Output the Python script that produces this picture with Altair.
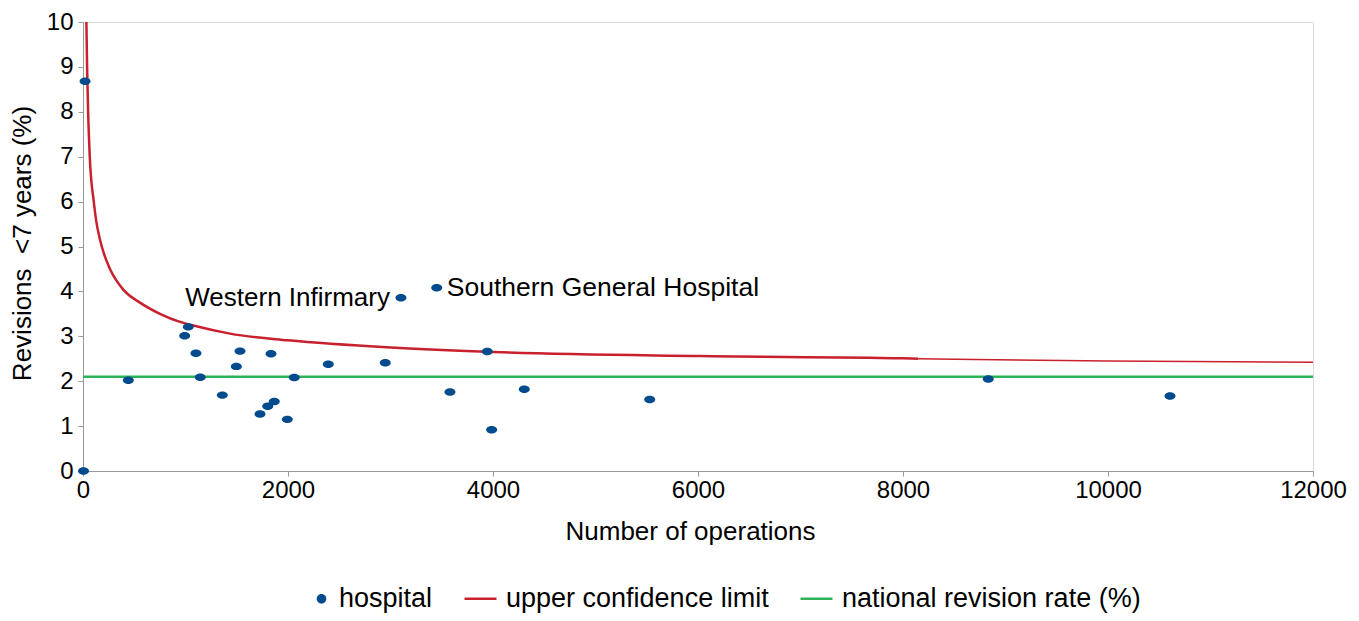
import altair as alt
import pandas as pd

FONT = "Liberation Sans"
BLUE = "#004B8D"
RED = "#C8202D"
GREEN = "#2DB25A"

# hospital points (number of operations, revision rate %)
hosp_x = [5, 20, 442, 992, 1027, 1102, 1144, 1359, 1496, 1532, 1727, 1802, 1866, 1834,
          1993, 2061, 2393, 2949, 3102, 3451, 3580, 3944, 3987, 4305, 5529, 8832, 10605]
hosp_y = [0.0, 8.68, 2.02, 3.01, 3.21, 2.62, 2.09, 1.69, 2.33, 2.67, 1.27, 1.44, 1.55, 2.61,
          1.15, 2.08, 2.38, 2.41, 3.86, 4.08, 1.76, 2.66, 0.92, 1.82, 1.59, 2.05, 1.67]

# upper confidence limit curve
ucl_x = [33, 40, 50, 66, 105, 127, 166, 210, 263, 393, 556, 751, 946, 1076, 1434,
         2000, 3093, 4000, 6020, 8000, 8150, 10000, 12000]
ucl_y = [10.0, 9.0, 8.0, 7.0, 6.0, 5.6, 5.15, 4.8, 4.5, 4.04, 3.75, 3.5, 3.32, 3.24, 3.06,
         2.91, 2.74, 2.65, 2.56, 2.51, 2.50, 2.45, 2.42]

national_rate = 2.1

label_names = ["Western Infirmary", "Southern General Hospital"]
label_x = [3102, 3451]
label_y = [3.86, 4.08]

series_domain = ["hospital", "upper confidence limit", "national revision rate (%)"]
x_ticks = [0, 2000, 4000, 6000, 8000, 10000, 12000]
y_ticks = list(range(0, 11))

# plotted ellipse, and the legend's versions (dot nudged right inside its symbol box)
ELLIPSE = "M-0.3,0A0.3,0.204,0,1,1,0.3,0A0.3,0.204,0,1,1,-0.3,0Z"
LEG_DOT = "M0.2,0A0.3,0.3,0,1,1,0.8,0A0.3,0.3,0,1,1,0.2,0Z"
HLINE = "M-1,0H1"

hosp_df = pd.DataFrame({"ops": hosp_x, "rate": hosp_y, "series": "hospital"})
ucl_df = pd.DataFrame({"ops": ucl_x, "rate": ucl_y})
nat_df = pd.DataFrame({"rate": [national_rate]})
lab_df = pd.DataFrame({"name": label_names, "ops": label_x, "rate": label_y})

xscale = alt.Scale(domain=[0, 12000], nice=False, zero=False)
yscale = alt.Scale(domain=[0, 10], nice=False)

x_axis = alt.Axis(values=x_ticks, format="d", title="Number of operations", grid=False,
                  labelFontSize=24, labelFont=FONT, labelColor="black",
                  titleFontSize=26, titleFont=FONT, titleFontWeight="normal", titleColor="black",
                  titleX=607, titleY=60, titleBaseline="middle", titleAlign="center",
                  domainColor="#999999", tickColor="#999999", tickSize=5, labelPadding=2,
                  labelFlush=False)
y_axis = alt.Axis(values=y_ticks, title="Revisions\u00a0 <7 years (%)", grid=False,
                  labelFontSize=24, labelFont=FONT, labelColor="black",
                  titleFontSize=26, titleFont=FONT, titleFontWeight="normal", titleColor="black",
                  titleX=-61, titleY=221, titleAngle=-90, titleAlign="center", titleBaseline="middle",
                  domainColor="#999999", tickColor="#999999", tickSize=5, labelPadding=5)

leg = alt.Legend(
    title=None, orient="none", legendX=213, legendY=559, direction="horizontal",
    labelFontSize=27, labelFont=FONT, labelColor="black", labelOffset=8,
    columnPadding=26, symbolStrokeWidth=2.5, labelLimit=400, symbolSize=1024,
)

base_x = alt.X("ops:Q", scale=xscale, axis=x_axis)
base_y = alt.Y("rate:Q", scale=yscale, axis=y_axis)

nat = alt.Chart(nat_df).mark_rule(color=GREEN, strokeWidth=2.5).encode(
    y=alt.Y("rate:Q", scale=yscale, axis=y_axis)
)

ucl_thick = alt.Chart(ucl_df).transform_filter("datum.ops <= 8150").mark_line(
    color=RED, strokeWidth=2.5, interpolate="monotone", clip=True
).encode(x=base_x, y=base_y)

ucl_thin = alt.Chart(ucl_df).transform_filter("datum.ops >= 8150").mark_line(
    color=RED, strokeWidth=1.5, interpolate="monotone", clip=True
).encode(x=base_x, y=base_y)

pts = alt.Chart(hosp_df).mark_point(
    filled=True, opacity=1, strokeWidth=0, size=1344, shape=ELLIPSE, color=BLUE
).encode(x=base_x, y=base_y)

# legend-only layer (no rows drawn; the legend comes from the explicit scale domains)
legend_layer = alt.Chart(hosp_df).transform_filter("false").mark_point(
    filled=True, opacity=1, strokeWidth=0
).encode(
    x=base_x, y=base_y,
    color=alt.Color("series:N", scale=alt.Scale(domain=series_domain, range=[BLUE, RED, GREEN]), legend=leg),
    stroke=alt.Stroke("series:N", scale=alt.Scale(domain=series_domain, range=["transparent", RED, GREEN]), legend=leg),
    shape=alt.Shape("series:N", scale=alt.Scale(domain=series_domain, range=[LEG_DOT, HLINE, HLINE]), legend=leg),
)

lab_left = alt.Chart(lab_df).transform_filter("datum.name === 'Western Infirmary'").mark_text(
    align="right", baseline="middle", dx=-11, fontSize=26, font=FONT, color="black"
).encode(x=base_x, y=base_y, text="name:N")

lab_right = alt.Chart(lab_df).transform_filter("datum.name === 'Southern General Hospital'").mark_text(
    align="left", baseline="middle", dx=10, fontSize=26.5, font=FONT, color="black"
).encode(x=base_x, y=base_y, text="name:N")

chart = alt.layer(nat, ucl_thick, ucl_thin, pts, legend_layer, lab_left, lab_right).properties(
    width=1230, height=449, autosize="none",
    padding={"left": 75, "top": 14, "right": 34, "bottom": 142},
).configure_view(stroke=None).configure(background="white")

chart.save("out.html", embed_options={"renderer": "svg", "actions": False})
